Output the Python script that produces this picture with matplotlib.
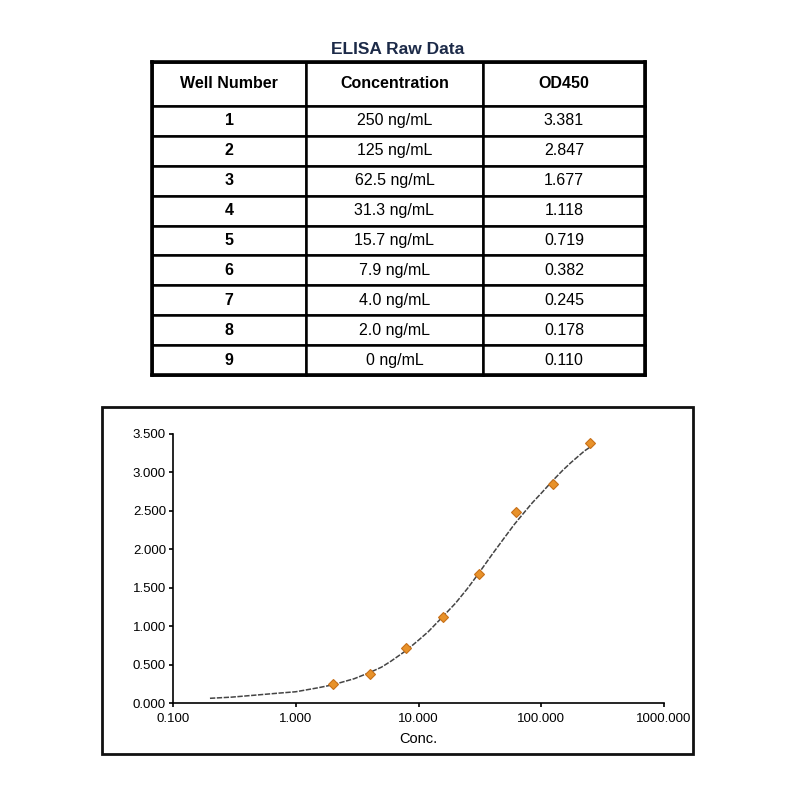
import numpy as np
import matplotlib.pyplot as plt
from matplotlib.patches import Rectangle
from matplotlib.ticker import FixedLocator, FuncFormatter, NullLocator

plt.rcParams['font.family'] = ['Liberation Sans', 'DejaVu Sans']

# table data
col_labels = ['Well Number', 'Concentration', 'OD450']
wells = ['1', '2', '3', '4', '5', '6', '7', '8', '9']
concs = ['250 ng/mL', '125 ng/mL', '62.5 ng/mL', '31.3 ng/mL', '15.7 ng/mL',
         '7.9 ng/mL', '4.0 ng/mL', '2.0 ng/mL', '0 ng/mL']
od450 = ['3.381', '2.847', '1.677', '1.118', '0.719', '0.382', '0.245', '0.178', '0.110']

# points as plotted
pt_conc = [2.0, 4.0, 7.9, 15.7, 31.3, 62.5, 125, 250]
pt_od = [0.25, 0.38, 0.72, 1.12, 1.68, 2.48, 2.85, 3.38]

# fitted curve
fit_conc = [0.2, 0.3, 0.5, 0.7, 1, 1.5, 2, 3, 4, 5, 6, 8, 10, 12, 15, 20, 25, 30, 35, 40, 50,
            60, 70, 85, 100, 125, 150, 175, 200, 225, 250]
fit_od = [0.065, 0.08, 0.11, 0.13, 0.15, 0.20, 0.24, 0.32, 0.40, 0.47, 0.55, 0.69, 0.82, 0.93,
          1.09, 1.30, 1.49, 1.66, 1.81, 1.94, 2.15, 2.32, 2.45, 2.61, 2.73, 2.90, 3.03, 3.13,
          3.21, 3.28, 3.33]

fig = plt.figure(figsize=(8, 8), dpi=100)

# ---- table ----
tax = fig.add_axes([152/800, 1 - 375/800, (645-152)/800, (375-62)/800])
tax.set_xticks([])
tax.set_yticks([])
for s in tax.spines.values():
    s.set_linewidth(2.6)
    s.set_zorder(5)
cells = [[w, c, o] for w, c, o in zip(wells, concs, od450)]
tbl = tax.table(cellText=cells, colLabels=col_labels, cellLoc='center',
                colWidths=[154, 177, 162], bbox=[0, 0, 1, 1])
tbl.auto_set_font_size(False)
for (r, c), cell in tbl.get_celld().items():
    cell.set_linewidth(1.8)
    cell.set_edgecolor('black')
    if r == 0:
        cell.set_height(44)
    else:
        cell.set_height(29.9)
    if r == 0 or c == 0:
        cell.get_text().set_fontweight('bold')
    cell.get_text().set_fontsize(11.5)
    cell.get_text().set_color('black')
fig.text(398/800, 1 - 50/800, 'ELISA Raw Data', ha='center', va='center',
         fontsize=12.5, fontweight='bold', color='#1c2a48')

# ---- outer frame of chart ----
fig.add_artist(Rectangle((102/800, 1 - 754/800), 591/800, 347/800,
                         transform=fig.transFigure, fill=False, lw=2, edgecolor='#111111'))

# ---- curve chart ----
ax = fig.add_axes([173/800, 1 - 703.3/800, (664-173)/800, (703.3-434)/800])
ax.plot(fit_conc, fit_od, color='#444444', lw=1.1, linestyle=(0, (3.5, 1)))
ax.plot(pt_conc, pt_od, linestyle='none', marker='D', markersize=5,
        markerfacecolor='#e8922a', markeredgecolor='#c87018', markeredgewidth=0.8)
ax.set_xscale('log')
ax.set_xlim(0.1, 1000)
ax.set_ylim(0, 3.5)
ax.xaxis.set_major_locator(FixedLocator([0.1, 1, 10, 100, 1000]))
ax.xaxis.set_minor_locator(NullLocator())
ax.xaxis.set_major_formatter(FuncFormatter(lambda v, p: f'{v:.3f}'))
ax.set_yticks(np.arange(0, 3.51, 0.5))
ax.yaxis.set_major_formatter(FuncFormatter(lambda v, p: f'{v:.3f}'))
ax.spines['top'].set_visible(False)
ax.spines['right'].set_visible(False)
for s in ('left', 'bottom'):
    ax.spines[s].set_linewidth(1.2)
ax.tick_params(axis='both', direction='out', length=3, width=1.2, labelsize=9.5, pad=2)
ax.tick_params(axis='x', pad=4)
ax.set_xlabel('Conc.', fontsize=10.5, labelpad=5)

fig.savefig('out.png', dpi=100, facecolor='white')
